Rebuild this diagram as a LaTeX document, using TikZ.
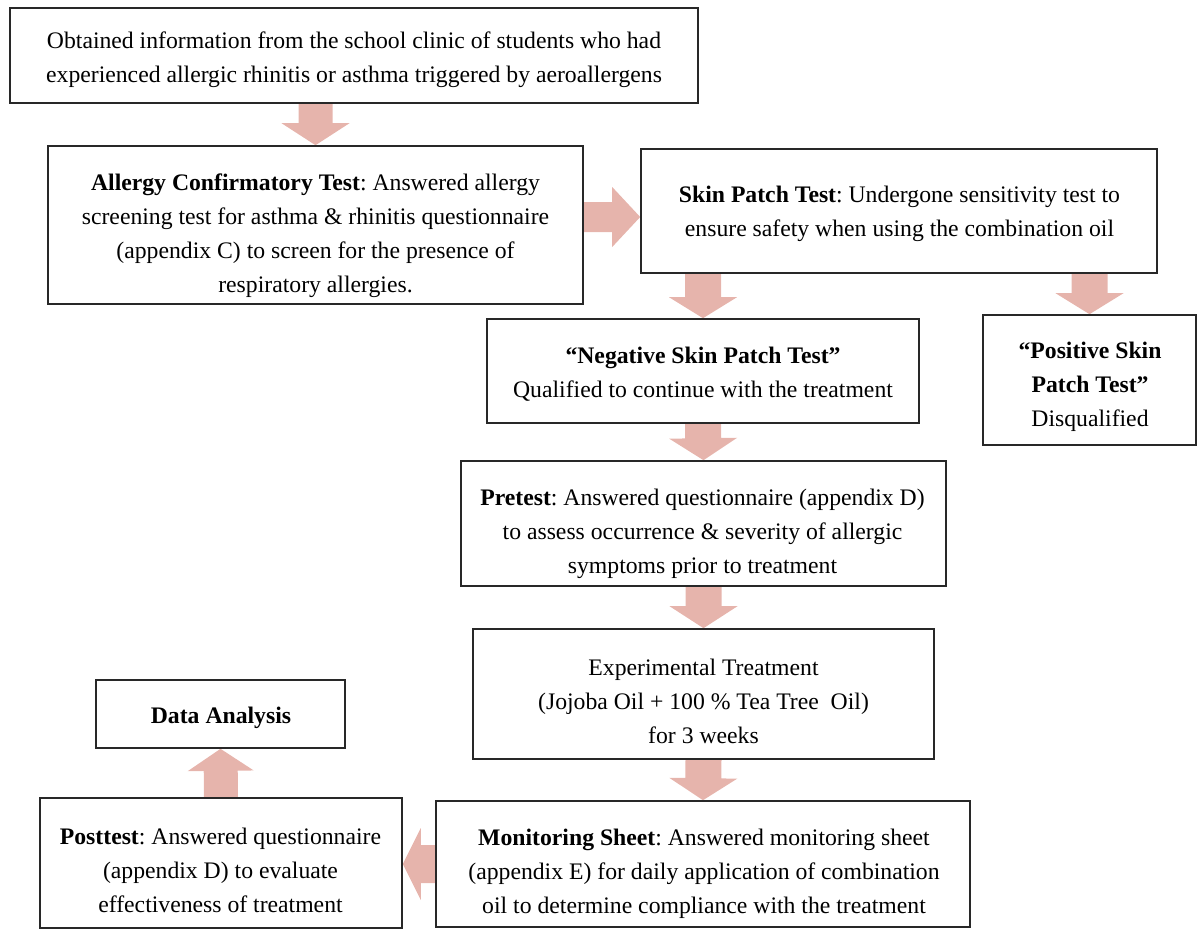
\documentclass[tikz,border=0pt]{standalone}
\usepackage{fontspec}
\setmainfont{Liberation Serif}
\usetikzlibrary{calc}
\frenchspacing
\pgfdeclarelayer{background}
\pgfsetlayers{background,main}
\definecolor{arrpink}{RGB}{230,180,172}
\definecolor{boxline}{RGB}{40,40,40}
\newcommand\blkarr[5]{%
  \path (#1) coordinate (bkS) (#2) coordinate (bkT) ($(bkT)!#5!(bkS)$) coordinate (bkB);
  \fill[arrpink] ($(bkS)!#3!90:(bkT)$) -- ($(bkB)!#3!90:(bkT)$) -- ($(bkB)!#4!90:(bkT)$) -- (bkT)
    -- ($(bkB)!#4!-90:(bkT)$) -- ($(bkB)!#3!-90:(bkT)$) -- ($(bkS)!#3!-90:(bkT)$) -- cycle;}
\tikzset{
  stagebox/.style={draw=boxline, line width=1.6pt, fill=white, inner sep=0pt},
  stagetext/.style={align=center, inner sep=0pt, font=\frenchspacing\fontsize{23.7}{34}\selectfont}
}
\begin{document}
\begin{tikzpicture}[x=1pt,y=-1pt]
\useasboundingbox (0,0) rectangle (1198,929);
% boxes
\node[stagebox, minimum width=688pt, minimum height=95pt] (top) at (354,55.5) {};
\node[stagebox, minimum width=535pt, minimum height=158pt] (all) at (315.5,225) {};
\node[stagebox, minimum width=516pt, minimum height=124pt] (skin) at (899,211) {};
\node[stagebox, minimum width=432pt, minimum height=104pt] (neg) at (703,371) {};
\node[stagebox, minimum width=213pt, minimum height=130pt] (pos) at (1089.5,380) {};
\node[stagebox, minimum width=485pt, minimum height=125pt] (pre) at (703.5,523.5) {};
\node[stagebox, minimum width=461pt, minimum height=130pt] (exp) at (703.5,694) {};
\node[stagebox, minimum width=249pt, minimum height=68pt] (data) at (220.5,714) {};
\node[stagebox, minimum width=362pt, minimum height=130pt] (post) at (221,863) {};
\node[stagebox, minimum width=534pt, minimum height=126pt] (mon) at (703,864) {};
% texts
\node[stagetext] (topT) at (354,59.5) {Obtained information from the school clinic of students who had\\experienced allergic rhinitis or asthma triggered by aeroallergens};
\node[stagetext] (allT) at (315.5,236) {\textbf{Allergy Confirmatory Test}: Answered allergy\\screening test for asthma \& rhinitis questionnaire\\(appendix C) to screen for the presence of\\respiratory allergies.};
\node[stagetext] (skinT) at (899.5,214) {\textbf{Skin Patch Test}: Undergone sensitivity test to\\ensure safety when using the combination oil};
\node[stagetext] (negT) at (703,374) {\textbf{“Negative Skin Patch Test”}\\Qualified to continue with the treatment};
\node[stagetext] (posT) at (1090,387) {\textbf{“Positive Skin}\\\textbf{Patch Test”}\\Disqualified};
\node[stagetext] (preT) at (702.5,534) {\textbf{Pretest}: Answered questionnaire (appendix D)\\to assess occurrence \& severity of allergic\\symptoms prior to treatment};
\node[stagetext] (expT) at (703.5,701) {Experimental Treatment\\(Jojoba Oil + 100 \% Tea Tree\ \ Oil)\\for 3 weeks};
\node[stagetext] (dataT) at (221,718) {\textbf{Data Analysis}};
\node[stagetext] (postT) at (220.5,870) {\textbf{Posttest}: Answered questionnaire\\(appendix D) to evaluate\\effectiveness of treatment};
\node[stagetext] (monT) at (704,874) {\textbf{Monitoring Sheet}: Answered monitoring sheet\\(appendix E) for daily application of combination\\oil to determine compliance with the treatment};
% helper coordinates
\coordinate (yAS) at (0,217);
\coordinate (yMP) at (0,864);
% block arrows
\begin{pgfonlayer}{background}
\blkarr{top.south -| all.north}{all.north}{17pt}{34pt}{22pt}
\blkarr{all.east |- yAS}{skin.west |- yAS}{15pt}{30pt}{28pt}
\blkarr{skin.south -| neg.north}{neg.north}{18pt}{34pt}{21pt}
\blkarr{skin.south -| pos.north}{pos.north}{18pt}{34pt}{21pt}
\blkarr{neg.south}{pre.north}{18pt}{34pt}{22pt}
\blkarr{pre.south}{exp.north}{18pt}{34pt}{22pt}
\blkarr{exp.south}{mon.north}{18pt}{34pt}{22pt}
\blkarr{mon.west |- yMP}{post.east |- yMP}{19pt}{36pt}{18pt}
\blkarr{post.north}{data.south}{17pt}{33pt}{22pt}
\end{pgfonlayer}
\end{tikzpicture}
\end{document}
